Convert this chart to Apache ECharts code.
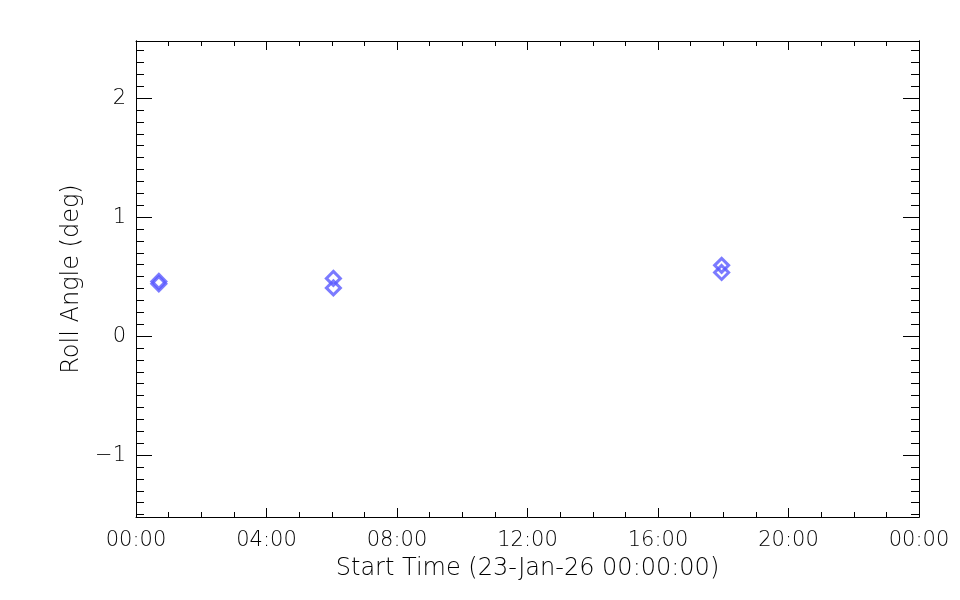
<!DOCTYPE html>
<html>
<head>
<meta charset="utf-8">
<script src="https://cdn.jsdelivr.net/npm/echarts@6/dist/echarts.min.js"></script>
<style>
  html, body { margin: 0; padding: 0; background: #fff; }
  #main { width: 960px; height: 600px; }
</style>
</head>
<body>
<div id="main"></div>
<script>
// start times (hh:mm on 23-Jan-26) and roll angles
var startTimes = ['00:42', '00:42', '06:03', '06:03', '17:57', '17:57'];
var rollAngle = [0.46, 0.44, 0.485, 0.405, 0.595, 0.535];

var yMajor = [-1, 0, 1, 2];
var yRange = [-1.52, 2.48];

// minor ticks every 0.1 deg
var yMinor = [];
for (var i = -15; i <= 24; i++) {
  if (i % 10 !== 0) yMinor.push(i / 10);
}

function toHours(s) {
  var p = s.split(':');
  return +p[0] + p[1] / 60;
}

var points = startTimes.map(function (t, i) {
  return [toHours(t), rollAngle[i]];
});

var font = 'DejaVu Sans';
var txt = { color: '#000', fontFamily: font, fontSize: 21, fontWeight: 'lighter' };
var nameTxt = { color: '#000', fontFamily: font, fontSize: 24, fontWeight: 'lighter' };
var line = { onZero: false, lineStyle: { color: '#000', width: 1 } };

function xAx(pos, labels) {
  return {
    type: 'value', position: pos, min: 0, max: 24, interval: 4,
    axisLine: line,
    axisTick: { inside: true, length: 9, lineStyle: { color: '#000' } },
    minorTick: { show: true, splitNumber: 4, length: 5, lineStyle: { color: '#000' } },
    splitLine: { show: false },
    axisLabel: labels ? Object.assign({
      margin: 13,
      formatter: function (v) {
        var h = v % 24;
        return (h < 10 ? '0' : '') + h + ':00';
      }
    }, txt) : { show: false }
  };
}

function yAx(pos, ticks, len, labels) {
  return {
    type: 'value', position: pos, min: yRange[0], max: yRange[1],
    axisLine: line,
    axisTick: { inside: true, length: len, customValues: ticks, lineStyle: { color: '#000' } },
    splitLine: { show: false },
    axisLabel: labels ? Object.assign({
      margin: 10,
      customValues: yMajor,
      formatter: function (v) {
        return v < 0 ? '\u2212' + Math.abs(v) : String(v);
      }
    }, txt) : { show: false, customValues: ticks }
  };
}

var chart = echarts.init(document.getElementById('main'));

var xBottom = xAx('bottom', true);
xBottom.name = 'Start Time (23-Jan-26 00:00:00)';
xBottom.nameLocation = 'middle';
xBottom.nameGap = 40;
xBottom.nameTextStyle = nameTxt;

var yLeft = yAx('left', yMajor, 16, true);
yLeft.name = 'Roll Angle (deg)';
yLeft.nameLocation = 'middle';
yLeft.nameGap = 52;
yLeft.nameTextStyle = nameTxt;

chart.setOption({
  animation: false,
  backgroundColor: '#fff',
  grid: { left: 136, right: 41, top: 41, bottom: 83 },
  xAxis: [xBottom, xAx('top', false)],
  yAxis: [
    yLeft,
    yAx('left', yMinor, 8, false),
    yAx('right', yMajor, 16, false),
    yAx('right', yMinor, 8, false)
  ],
  series: [{
    type: 'scatter',
    xAxisIndex: 0,
    yAxisIndex: 0,
    data: points,
    symbol: 'diamond',
    symbolSize: 14,
    itemStyle: { color: 'rgba(0,0,0,0)', borderColor: '#5a5aff', borderWidth: 3 }
  }]
});
</script>
</body>
</html>
